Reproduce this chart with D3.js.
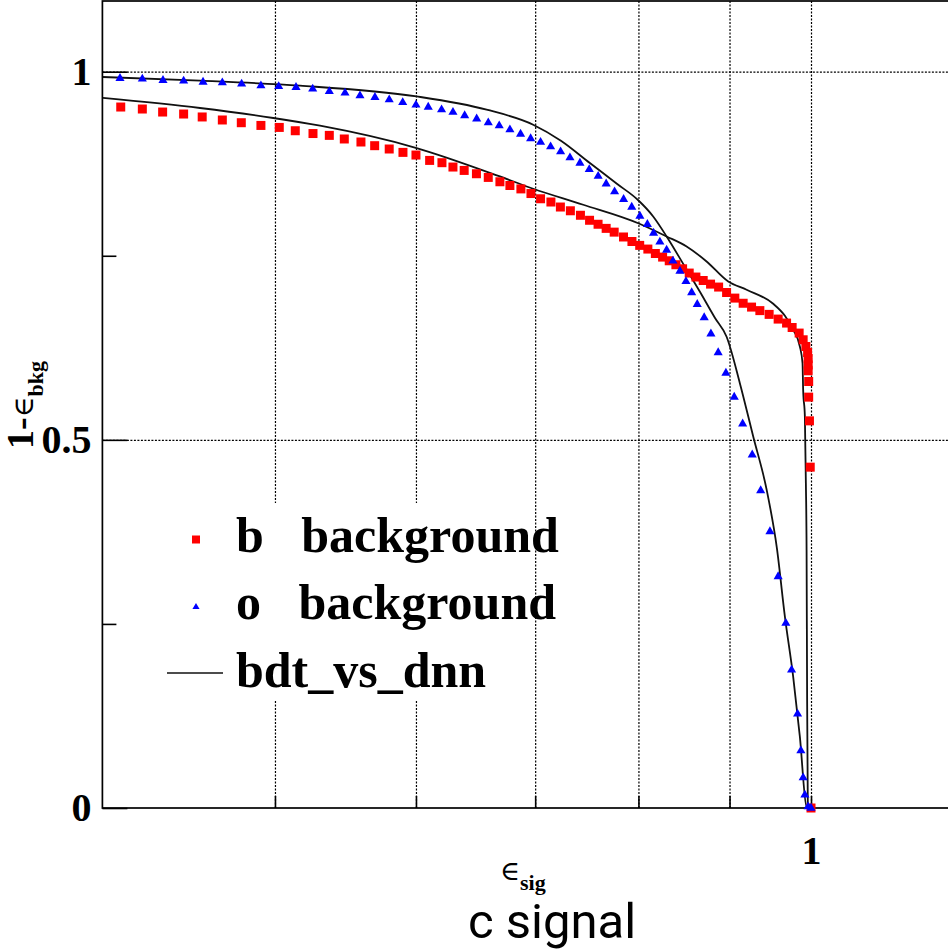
<!DOCTYPE html>
<html>
<head>
<meta charset="utf-8">
<script src="https://cdn.jsdelivr.net/npm/d3@7"></script>
<style>
    body { margin: 0; background: #fff; }
    #roc-area { width: 948px; height: 951px; }
    .grid line { stroke: #000; stroke-width: 1.2; stroke-dasharray: 2,1.5; }
    .axis line { stroke: #000; stroke-width: 1.6; }
    .axis text, .tlatex { font-family: "Liberation Serif", "DejaVu Serif", serif; font-weight: bold; fill: #000; }
</style>
</head>
<body>
<div id="roc-area"></div>
<script>

// b background : signal efficiency / background rejection (red squares)
let bEff = [0.4096,0.4212,0.4324,0.4443,0.4551,0.4671,0.4787,0.4910,0.5028,0.5133,
            0.5252,0.5364,0.5469,0.5588,0.5688,0.5796,0.5900,0.6000,0.6107,0.6205,
            0.6294,0.6386,0.6488,0.6588,0.6688,0.6775,0.6872,0.6962,0.7049,0.7144,
            0.7232,0.7326,0.7422,0.7510,0.7593,0.7673,0.7753,0.7847,0.7933,0.8013,
            0.8098,0.8177,0.8254,0.8325,0.8397,0.8470,0.8543,0.8617,0.8699,0.8782,
            0.8874,0.8966,0.9062,0.9160,0.9260,0.9360,0.9473,0.9584,0.9689,0.9759,
            0.9848,0.9899,0.9934,0.9956,0.9963,0.9963,0.9963,0.9970,0.9970,0.9980,0.9990,1.0];
let bRej = [0.9520,0.9493,0.9452,0.9425,0.9385,0.9344,0.9307,0.9270,0.9243,0.9198,
            0.9160,0.9135,0.9086,0.9045,0.8995,0.8950,0.8904,0.8868,0.8795,0.8764,
            0.8705,0.8659,0.8614,0.8564,0.8505,0.8454,0.8408,0.8345,0.8274,0.8230,
            0.8162,0.8111,0.8050,0.7982,0.7928,0.7872,0.7821,0.7755,0.7694,0.7641,
            0.7591,0.7531,0.7482,0.7432,0.7378,0.7323,0.7265,0.7211,0.7164,0.7115,
            0.7075,0.7001,0.6925,0.6855,0.6803,0.6755,0.6704,0.6640,0.6586,0.6526,
            0.6450,0.6359,0.6268,0.6186,0.6105,0.6019,0.5938,0.5792,0.5580,0.5258,0.4629,0];

// o background (blue triangles)
let oEff = [0.4092,0.4212,0.4326,0.4443,0.4556,0.4671,0.4789,0.4910,0.5024,0.5138,
            0.5250,0.5364,0.5474,0.5581,0.5690,0.5796,0.5898,0.6000,0.6096,0.6202,
            0.6294,0.6390,0.6490,0.6588,0.6682,0.6775,0.6869,0.6959,0.7049,0.7141,
            0.7234,0.7322,0.7417,0.7507,0.7594,0.7673,0.7757,0.7848,0.7931,0.8015,
            0.8093,0.8158,0.8225,0.8297,0.8365,0.8441,0.8507,0.8570,0.8632,0.8710,
            0.8786,0.8869,0.8958,0.9055,0.9154,0.9268,0.9370,0.9483,0.9584,0.9680,
            0.9752,0.9828,0.9870,0.9899,0.9921,0.9963,1.0];
let oRej = [0.9909,0.9901,0.9882,0.9874,0.9860,0.9851,0.9833,0.9810,0.9800,0.9787,
            0.9765,0.9732,0.9711,0.9674,0.9651,0.9620,0.9583,0.9548,0.9520,0.9484,
            0.9450,0.9405,0.9359,0.9307,0.9266,0.9212,0.9153,0.9092,0.9042,0.8981,
            0.8913,0.8832,0.8759,0.8673,0.8580,0.8478,0.8370,0.8266,0.8162,0.8039,
            0.7928,0.7808,0.7688,0.7577,0.7429,0.7293,0.7151,0.7001,0.6841,0.6660,
            0.6440,0.6186,0.5906,0.5580,0.5217,0.4796,0.4311,0.3754,0.3143,0.2510,
            0.1875,0.1277,0.0779,0.0412,0.0177,0.0018,0];

// bdt_vs_dnn curves (black lines)
let bdtEffO = [0.4003,0.4538,0.5164,0.6005,0.6574,0.6982,0.7237,0.7513,0.7780,
               0.7998,0.8154,0.8297,0.8477,0.8662,0.8831,0.8966,0.9121,0.9280,0.9443,
               0.9568,0.9668,0.9772,0.9857,0.9943,1.0];
let bdtRejO = [0.9928,0.9878,0.9810,0.9664,0.9484,0.9280,0.9062,0.8759,0.8478,
               0.8254,0.8034,0.7762,0.7390,0.7011,0.6658,0.6400,0.5770,0.5045,0.4321,
               0.3533,0.2599,0.1784,0.0969,0.0018,0];
let bdtEffB = [0.4003,0.4538,0.4989,0.5300,0.6005,0.6688,0.6982,0.7449,0.7998,0.8297,
               0.8514,0.8737,0.8985,0.9201,0.9523,0.9668,0.9772,0.9857,0.9891,0.9899,
               0.9921,0.9934,0.9943,0.9950,0.9959];
let bdtRejB = [0.9643,0.9507,0.9371,0.9266,0.8963,0.8577,0.8410,0.8193,0.7942,0.7762,
               0.7626,0.7423,0.7151,0.7038,0.6848,0.6685,0.6495,0.6268,0.6042,0.5679,
               0.5317,0.4412,0.3505,0.1467,0];

// ticks and labels
let effTicks = [0.5, 0.6, 0.7, 0.8, 0.9, 1];
let effTickLabels = ["", "", "", "", "", "1"];
let rejGrid = [0.5, 1];
let rejMajorTicks = [0, 0.5, 1];
let rejMajorLabels = ["0", "0.5", "1"];
let rejMinorTicks = [0.25, 0.75];
let legendLabels = ["b   background", "o   background", "bdt_vs_dnn"];


class RocVis {

    constructor(parentElement) {
        this.parentElement = parentElement;
        this.initVis();
    }

    initVis() {
        let vis = this;

        vis.margin = {top: 1, left: 102.4};
        vis.width = 849.6;
        vis.height = 807;

        vis.svg = d3.select("#" + vis.parentElement).append("svg")
            .attr("width", 948)
            .attr("height", 951);

        vis.g = vis.svg.append("g")
            .attr("transform", `translate(${vis.margin.left},${vis.margin.top})`);

        // log x (signal eff), linear y (1 - bkg eff)
        vis.x = d3.scaleLog().domain([0.4, 1.2]).range([0, vis.width]);
        vis.y = d3.scaleLinear().domain([0, 1.096]).range([vis.height, 0]);

        // dotted grid
        vis.g.append("g")
            .attr("class", "grid")
            .attr("transform", `translate(0,${vis.height})`)
            .call(d3.axisBottom(vis.x).tickValues(effTicks).tickSize(-vis.height).tickFormat(""))
            .call(g => g.select(".domain").remove());

        vis.g.append("g")
            .attr("class", "grid")
            .call(d3.axisLeft(vis.y).tickValues(rejGrid).tickSize(-vis.width).tickFormat(""))
            .call(g => g.select(".domain").remove());

        // legend box hides the grid behind it
        vis.legend = vis.svg.append("g").attr("transform", "translate(150,503)");
        vis.legend.append("rect")
            .attr("width", 380)
            .attr("height", 197)
            .attr("fill", "#fff");

        // frame
        vis.g.append("rect")
            .attr("width", vis.width)
            .attr("height", vis.height)
            .attr("fill", "none")
            .attr("stroke", "#000")
            .attr("stroke-width", 1.7);

        // axes, ticks pointing inwards like ROOT
        vis.g.append("g")
            .attr("class", "axis")
            .attr("transform", `translate(0,${vis.height})`)
            .call(d3.axisBottom(vis.x).tickValues(effTicks).tickSize(-12).tickPadding(28)
                .tickFormat((d, i) => effTickLabels[i]))
            .call(g => g.select(".domain").remove())
            .selectAll("text").attr("font-size", 40);

        vis.g.append("g")
            .attr("class", "axis")
            .call(d3.axisLeft(vis.y).tickValues(rejMajorTicks).tickSize(-25).tickPadding(11)
                .tickFormat((d, i) => rejMajorLabels[i]))
            .call(g => g.select(".domain").remove())
            .selectAll("text").attr("font-size", 40);

        vis.g.append("g")
            .attr("class", "axis")
            .call(d3.axisLeft(vis.y).tickValues(rejMinorTicks).tickSize(-14).tickFormat(""))
            .call(g => g.select(".domain").remove());

        // axis titles
        let yTitle = vis.svg.append("text")
            .attr("class", "tlatex")
            .attr("text-anchor", "middle")
            .attr("transform", "translate(33,405) rotate(-90)");
        yTitle.append("tspan").attr("font-size", 38).text("1-");
        yTitle.append("tspan").attr("font-size", 28).attr("font-weight", "normal").text("∈");
        yTitle.append("tspan").attr("font-size", 22).attr("dy", 10).text("bkg");

        let xTitle = vis.svg.append("text")
            .attr("class", "tlatex")
            .attr("x", 500)
            .attr("y", 880);
        xTitle.append("tspan").attr("font-size", 27).attr("font-weight", "normal").text("∈");
        xTitle.append("tspan").attr("font-size", 22).attr("dy", 10).text("sig");

        vis.svg.append("text")
            .attr("x", 552)
            .attr("y", 938)
            .attr("text-anchor", "middle")
            .attr("font-family", "Roboto, 'Noto Sans', sans-serif")
            .attr("font-size", 49)
            .text("c signal");

        vis.wrangleData();
    }

    wrangleData() {
        let vis = this;

        vis.bPoints = d3.zip(bEff, bRej);
        vis.oPoints = d3.zip(oEff, oRej);
        vis.bdtCurves = [d3.zip(bdtEffO, bdtRejO), d3.zip(bdtEffB, bdtRejB)];

        vis.updateVis();
    }

    updateVis() {
        let vis = this;

        let line = d3.line()
            .x(d => vis.x(d[0]))
            .y(d => vis.y(d[1]))
            .curve(d3.curveMonotoneX);

        vis.g.selectAll(".bdt")
            .data(vis.bdtCurves)
            .enter().append("path")
            .attr("class", "bdt")
            .attr("d", line)
            .attr("fill", "none")
            .attr("stroke", "#111")
            .attr("stroke-width", 1.8);

        vis.g.selectAll(".bmark")
            .data(vis.bPoints)
            .enter().append("path")
            .attr("class", "bmark")
            .attr("d", d3.symbol(d3.symbolSquare, 81))
            .attr("transform", d => `translate(${vis.x(d[0])},${vis.y(d[1])})`)
            .attr("fill", "#ff0000");

        vis.g.selectAll(".omark")
            .data(vis.oPoints)
            .enter().append("path")
            .attr("class", "omark")
            .attr("d", d3.symbol(d3.symbolTriangle, 36))
            .attr("transform", d => `translate(${vis.x(d[0])},${vis.y(d[1])})`)
            .attr("fill", "#0000ff");

        // legend entries
        let rows = [36.5, 104, 170];
        vis.legend.append("path")
            .attr("d", d3.symbol(d3.symbolSquare, 64))
            .attr("transform", `translate(46,${rows[0]})`)
            .attr("fill", "#ff0000");
        vis.legend.append("path")
            .attr("d", d3.symbol(d3.symbolTriangle, 22))
            .attr("transform", `translate(46,${rows[1]})`)
            .attr("fill", "#0000ff");
        vis.legend.append("line")
            .attr("x1", 17).attr("x2", 73)
            .attr("y1", rows[2]).attr("y2", rows[2])
            .attr("stroke", "#111")
            .attr("stroke-width", 1.6);

        vis.legend.selectAll(".legtext")
            .data(legendLabels)
            .enter().append("text")
            .attr("class", "tlatex legtext")
            .attr("x", 86)
            .attr("y", (d, i) => [49, 116, 184][i])
            .attr("font-size", 50)
            .style("white-space", "pre")
            .text(d => d);
    }
}

new RocVis("roc-area");
</script>
</body>
</html>
